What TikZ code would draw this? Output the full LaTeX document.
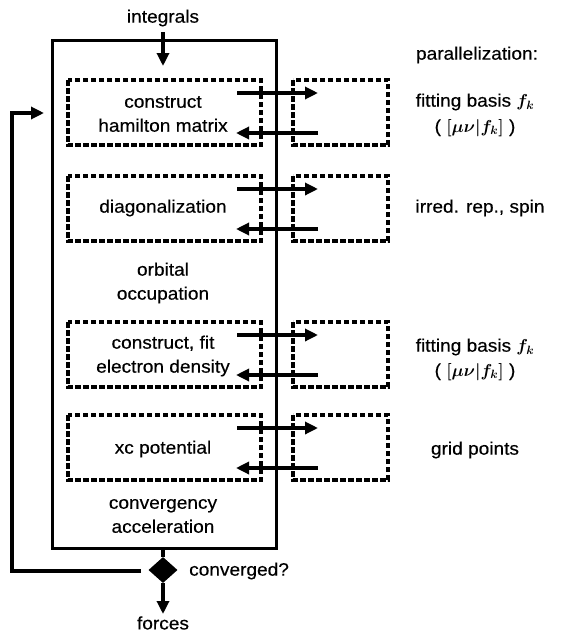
\documentclass[tikz,border=0pt]{standalone}
\usepackage{fontspec}
\setmainfont{Liberation Sans}[FakeStretch=1.06,FakeBold=0.4]
\usepackage{amsmath,bm}
\usetikzlibrary{arrows.meta,shapes.geometric}
\begin{document}
\begin{tikzpicture}[x=1pt,y=-1pt,
  lbl/.style={font=\fontsize{18}{21}\selectfont, align=center, inner sep=0pt},
  mainbox/.style={draw, line width=3pt},
  dbox/.style={draw, line width=3.2pt, dash pattern=on 5.5pt off 2.5pt},
  arr/.style={line width=3.2pt, -{Triangle[length=13pt,width=12pt]}},
  flow/.style={line width=3.2pt}]
\useasboundingbox (0,0) rectangle (561,633);
% main box
\draw[mainbox] (52,40) rectangle (276,548);
\node[lbl] (integrals) at (163,18) {integrals};
\coordinate (inTop) at (163,32);
\coordinate (inEnd) at (163,66);
\draw[arr] (inTop) -- (inEnd);
% dashed boxes
\foreach \n/\t/\b in {1/80/145, 2/176/241, 3/322/387, 4/415/480}{
  \draw[dbox] (68,\t) rectangle (261,\b);
  \draw[dbox] (293,\t) rectangle (388,\b);
  \coordinate (a\n s) at (237,\t+13);
  \coordinate (a\n e) at (318,\t+13);
  \coordinate (b\n s) at (318,\b-12);
  \coordinate (b\n e) at (236,\b-12);
  \draw[arr] (a\n s) -- (a\n e);
  \draw[arr] (b\n s) -- (b\n e);
}
\node[lbl] (ham) at (163,114) {construct\\[3pt]hamilton matrix};
\node[lbl] (diag) at (163,208) {diagonalization};
\node[lbl] (occ) at (163,283) {orbital\\[3pt]occupation};
\node[lbl] (dens) at (163,356) {construct, fit\\[3pt]electron density};
\node[lbl] (xc) at (163,449) {xc potential};
\node[lbl] (conv) at (163,516) {convergency\\[3pt]acceleration};
% diamond and exit
\coordinate (boxBot) at (163,548);
\node[diamond, fill=black, minimum width=29pt, minimum height=26pt, inner sep=0pt] (dia) at (163,570) {};
\draw[flow] (boxBot) -- (dia.north);
\coordinate (forcesEnd) at (163,614);
\draw[arr] (dia.south) -- (forcesEnd);
\node[lbl] (forces) at (163,623) {forces};
\node[lbl, anchor=west] (converged) at (189,571) {converged?};
% feedback loop
\coordinate (fbStart) at (141,571);
\coordinate (fbEnd) at (44,113);
\draw[line width=3.2pt, -{Triangle[length=13pt,width=12pt]}] (fbStart) -- (12,571) -- (12,113) -- (fbEnd);
% right column
\node[lbl] (par) at (477,55) {parallelization:};
\node[lbl] (fb1) at (475,102) {fitting basis {\boldmath$f_k$}};
\node[lbl] (fb1b) at (475,128) {( {\boldmath$[\mu\nu|f_k]$} )};
\node[lbl] (irr) at (480,208) {irred. rep., spin};
\node[lbl] (fb2) at (475,347) {fitting basis {\boldmath$f_k$}};
\node[lbl] (fb2b) at (475,372) {( {\boldmath$[\mu\nu|f_k]$} )};
\node[lbl] (grid) at (475,450) {grid points};
\end{tikzpicture}
\end{document}
